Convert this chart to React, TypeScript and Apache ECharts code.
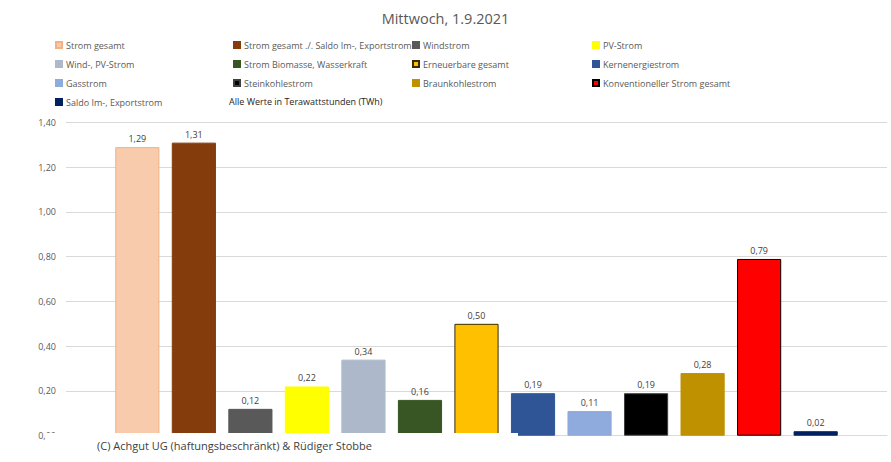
import React, { useEffect, useRef } from "react";
import * as echarts from "echarts";

const title = "Mittwoch, 1.9.2021";
const seriesNames = [
  "Strom gesamt",
  "Strom gesamt ./. Saldo Im-, Exportstrom",
  "Windstrom",
  "PV-Strom",
  "Wind-, PV-Strom",
  "Strom Biomasse, Wasserkraft",
  "Erneuerbare gesamt",
  "Kernenergiestrom",
  "Gasstrom",
  "Steinkohlestrom",
  "Braunkohlestrom",
  "Konventioneller Strom gesamt",
  "Saldo Im-, Exportstrom",
];
const values = [1.29, 1.31, 0.12, 0.22, 0.34, 0.16, 0.5, 0.19, 0.11, 0.19, 0.28, 0.79, 0.02];
const colors = [
  "#F8CBAD",
  "#843C0C",
  "#595959",
  "#FFFF00",
  "#ADB9CA",
  "#375623",
  "#FFC000",
  "#2F5597",
  "#8FAADC",
  "#000000",
  "#BF9000",
  "#FF0000",
  "#002060",
];
const borders = [
  "#F4B183", "#843C0C", "#595959", "#FFFF00", "#ADB9CA", "#375623",
  "#3A2C00", "#2F5597", "#8FAADC", "#404040", "#BF9000", "#000000", "#002060",
];
const yTicks = [0, 0.2, 0.4, 0.6, 0.8, 1.0, 1.2, 1.4];
const unitNote = "Alle Werte in Terawattstunden (TWh)";
const copyright = "(C) Achgut UG (haftungsbeschränkt) & Rüdiger Stobbe";

const legendColumns = [
  [0, 4, 8, 12],
  [1, 5, 9],
  [2, 6, 10],
  [3, 7, 11],
];
const legendLefts = [55, 233, 412, 592];

const FONT = "Open Sans";

export default function App() {
  const ref = useRef<HTMLDivElement>(null);
  useEffect(() => {
    if (!ref.current) return;
    const chart = echarts.init(ref.current, undefined, { renderer: "svg" });
    const fmt = (v: number) => v.toFixed(2).replace(".", ",");
    chart.setOption({
      animation: false,
      backgroundColor: "#ffffff",
      title: {
        text: title,
        left: "center",
        top: 6,
        textStyle: { fontFamily: FONT, fontSize: 14.5, fontWeight: "normal", color: "#595959" },
      },
      legend: legendColumns.map((col, i) => ({
        orient: "vertical",
        left: legendLefts[i],
        top: 39,
        padding: 0,
        itemWidth: 6,
        itemHeight: 6,
        itemGap: 7,
        icon: "rect",
        selectedMode: false,
        data: col.map((k) => seriesNames[k]),
        textStyle: { fontFamily: FONT, fontSize: 9, color: "#595959", lineHeight: 12, padding: [0, 0, 0, -1] },
      })),
      grid: { left: 66, right: 4, top: 122.5, bottom: 26.3, containLabel: false },
      xAxis: {
        type: "category",
        data: [""],
        axisLine: { show: true, lineStyle: { color: "#d9d9d9" } },
        axisTick: { show: false },
        axisLabel: { show: false },
      },
      yAxis: {
        type: "value",
        min: yTicks[0],
        max: yTicks[yTicks.length - 1],
        interval: 0.2,
        axisLine: { show: false },
        axisTick: { show: false },
        splitLine: { lineStyle: { color: "#d9d9d9" } },
        axisLabel: {
          fontFamily: FONT,
          fontSize: 9,
          color: "#595959",
          margin: 10,
          formatter: (v: number) => fmt(v),
        },
      },
      series: seriesNames.map((name, i) => ({
        name,
        type: "bar",
        data: [values[i]],
        barGap: "28%",
        barCategoryGap: "12%",
        itemStyle: { color: colors[i], borderColor: borders[i], borderWidth: 1 },
        label: {
          show: true,
          position: "top",
          distance: 4,
          fontFamily: FONT,
          fontSize: 9,
          color: "#404040",
          formatter: (p: any) => fmt(p.value),
        },
      })),
      graphic: [
        {
          type: "rect",
          z: 100,
          shape: { x: 46, y: 433, width: 472, height: 24 },
          style: { fill: "#ffffff" },
        },
        {
          type: "text",
          z: 101,
          x: 97,
          y: 445,
          style: {
            text: copyright,
            fontFamily: FONT,
            fontSize: 11,
            fill: "#404040",
            verticalAlign: "middle",
          },
        },
        {
          type: "text",
          z: 101,
          x: 229,
          y: 101,
          style: {
            text: unitNote,
            fontFamily: FONT,
            fontSize: 9,
            fill: "#262626",
            verticalAlign: "middle",
          },
        },
      ],
    });
    return () => chart.dispose();
  }, []);
  return <div ref={ref} style={{ width: 891, height: 462, position: "absolute", left: 0, top: 0 }} />;
}
